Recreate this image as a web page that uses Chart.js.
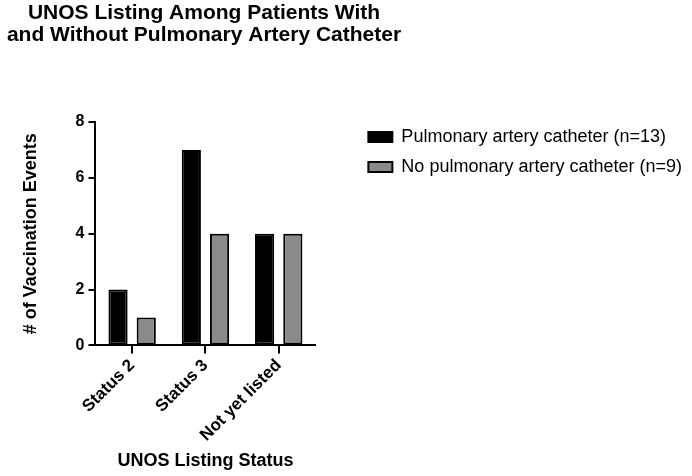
<!DOCTYPE html>
<html>
<head>
<meta charset="utf-8">
<script src="https://cdn.jsdelivr.net/npm/chart.js@4.4.1/dist/chart.umd.min.js"></script>
<style>
  body { margin: 0; background: #fff; }
</style>
</head>
<body>
<canvas id="unosChart" width="692" height="476"></canvas>
<script>

var titleLines = ["UNOS Listing Among Patients With", "and Without Pulmonary Artery Catheter"];
var categories = ["Status 2", "Status 3", "Not yet listed"];
var seriesNames = ["Pulmonary artery catheter (n=13)", "No pulmonary artery catheter (n=9)"];
var catheterCounts = [2, 7, 4];
var noCatheterCounts = [1, 4, 4];
var yTicks = [0, 2, 4, 6, 8];

var FONT = '"Liberation Sans", Arial, sans-serif';
Chart.defaults.font.family = FONT;
Chart.defaults.color = '#000';

// title is drawn by hand so it can sit centred over the plot, not the canvas
var titlePlugin = {
    id: 'plotTitle',
    afterDraw: function (chart) {
        var ctx = chart.ctx;
        ctx.save();
        ctx.font = 'bold 21px ' + FONT;
        ctx.fillStyle = '#000';
        ctx.textAlign = 'center';
        ctx.textBaseline = 'alphabetic';
        titleLines.forEach(function (line, i) {
            ctx.fillText(line, 204, 19 + i * 22);
        });
        ctx.restore();
    }
};

function gapAxis(position, size) {
    return {
        type: position === 'top' ? 'category' : 'linear',
        position: position,
        display: true,
        grid: { display: false },
        border: { display: false },
        ticks: { display: false },
        afterFit: function (scale) {
            if (position === 'top') scale.height = size; else scale.width = size;
        }
    };
}

new Chart(document.getElementById('unosChart'), {
    type: 'bar',
    data: {
        labels: categories,
        datasets: [{
            label: seriesNames[0],
            data: catheterCounts,
            backgroundColor: '#000',
            borderColor: '#000',
            borderWidth: 2,
            borderSkipped: false
        }, {
            label: seriesNames[1],
            data: noCatheterCounts,
            backgroundColor: '#8a8a8a',
            borderColor: '#000',
            borderWidth: 2,
            borderSkipped: false
        }]
    },
    options: {
        responsive: false,
        animation: false,
        categoryPercentage: 0.77,
        barPercentage: 0.68,
        layout: { padding: { top: 116, left: 16, right: 0, bottom: 0 } },
        plugins: {
            legend: {
                position: 'right',
                align: 'start',
                maxWidth: 340,
                labels: {
                    boxWidth: 24,
                    boxHeight: 10,
                    padding: 12,
                    color: '#000',
                    font: { size: 18 }
                }
            },
            tooltip: { enabled: false }
        },
        scales: {
            x: {
                grid: {
                    offset: false,
                    drawOnChartArea: false,
                    drawTicks: true,
                    tickLength: 8,
                    color: '#000',
                    lineWidth: 2
                },
                border: { display: true, color: '#000', width: 2 },
                ticks: {
                    minRotation: 45,
                    maxRotation: 45,
                    padding: 2,
                    color: '#000',
                    font: { size: 17, weight: 'bold' }
                },
                title: {
                    display: true,
                    text: 'UNOS Listing Status',
                    color: '#000',
                    font: { size: 18, weight: 'bold' },
                    padding: { top: 3, bottom: 4 }
                }
            },
            y: {
                min: yTicks[0],
                max: yTicks[yTicks.length - 1],
                afterBuildTicks: function (scale) {
                    scale.ticks = yTicks.map(function (v) { return { value: v }; });
                },
                grid: {
                    drawOnChartArea: false,
                    drawTicks: true,
                    tickLength: 7,
                    color: '#000',
                    lineWidth: 2
                },
                border: { display: true, color: '#000', width: 2 },
                ticks: {
                    padding: 4,
                    color: '#000',
                    font: { size: 16, weight: 'bold' }
                },
                title: {
                    display: true,
                    text: '# of Vaccination Events',
                    color: '#000',
                    font: { size: 18, weight: 'bold' },
                    padding: { top: 4, bottom: 30 }
                }
            },
            topGap: gapAxis('top', 6),
            rightGap: gapAxis('right', 41)
        }
    },
    plugins: [titlePlugin]
});
</script>
</body>
</html>
